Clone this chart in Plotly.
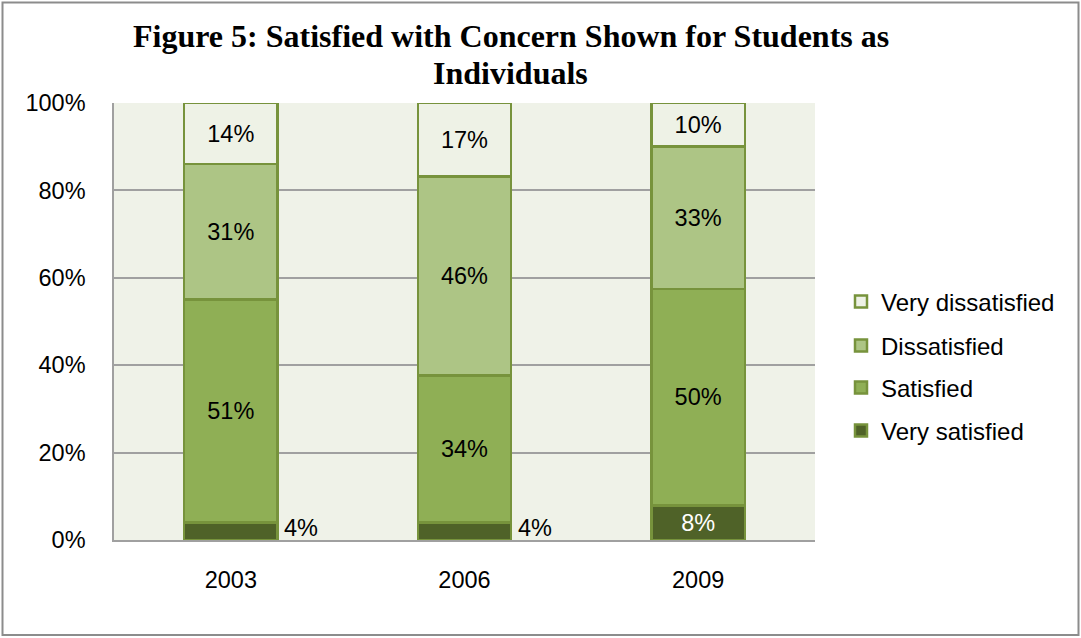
import plotly.graph_objects as go

years = ["2003", "2006", "2009"]
series_names = ["Very satisfied", "Satisfied", "Dissatisfied", "Very dissatisfied"]
very_satisfied = [4, 4, 8]
satisfied = [51, 34, 50]
dissatisfied = [31, 46, 33]
very_dissatisfied = [14, 17, 10]
y_ticks = [0, 20, 40, 60, 80, 100]
title_lines = ["Figure 5: Satisfied with Concern Shown for Students as", "Individuals"]

all_series = [very_satisfied, satisfied, dissatisfied, very_dissatisfied]
fills = ["#4F6228", "#8FAF55", "#ADC585", "#EEF2E6"]
outline = "#77933C"
FONT = "Liberation Sans, Arial, sans-serif"
FS = 23.5

W, H = 1081, 638
ml, mr, mt, mb = 114, 266, 103, 98
pw, ph = W - ml - mr, H - mt - mb

fig = go.Figure()
legend_ids = ["legend4", "legend3", "legend2", "legend"]
for i, (name, vals) in enumerate(zip(series_names, all_series)):
    if i == 0:
        texts = [f"{v}%" if v >= 6 else "" for v in vals]
        tcolor = "white"
    else:
        texts = [f"{v}%" for v in vals]
        tcolor = "black"
    fig.add_trace(go.Bar(
        x=years, y=vals, name=name, text=texts,
        textposition="inside", insidetextanchor="middle",
        constraintext="none", textangle=0,
        insidetextfont=dict(family=FONT, size=FS, color=tcolor),
        marker=dict(color=fills[i], line=dict(color=outline, width=2.5)),
        width=0.4, legend=legend_ids[i], hoverinfo="skip",
    ))

# small-segment labels outside to the right (category index positions)
for j, yr in enumerate(years):
    v = very_satisfied[j]
    if v < 6:
        tot = sum(s[j] for s in all_series)
        fig.add_annotation(x=j, y=100 * v / tot / 2, text=f"{v}%", showarrow=False,
                           xref="x", yref="y", xshift=70, yshift=3,
                           font=dict(family=FONT, size=FS, color="black"))

# title lines
for k, (line, ypx) in enumerate(zip(title_lines, [36, 73])):
    fig.add_annotation(x=(511 - ml) / pw, y=(H - mb - ypx) / ph, xref="paper", yref="paper",
                       text=f"<b>{line}</b>", showarrow=False, xanchor="center", yanchor="middle",
                       font=dict(family="Liberation Serif, Times New Roman, serif", size=32,
                                 color="black"))

legend_y_px = [302, 346, 388, 431]
leg_common = dict(font=dict(family=FONT, size=24, color="black"), bgcolor="rgba(0,0,0,0)",
                  xanchor="left", yanchor="middle", itemwidth=30)
legends = {}
for k, lid in enumerate(["legend", "legend2", "legend3", "legend4"]):
    legends[lid] = dict(x=(841 - ml) / pw, y=(H - mb - legend_y_px[k]) / ph, **leg_common)

# outer border
fig.add_shape(type="rect", xref="paper", yref="paper",
              x0=(2.5 - ml) / pw, x1=(1078.5 - ml) / pw,
              y0=(H - mb - 635) / ph, y1=(H - mb - 2.5) / ph,
              line=dict(color="#8C8C8C", width=2), fillcolor="rgba(0,0,0,0)", layer="below")

fig.update_layout(
    width=W, height=H,
    margin=dict(l=ml, r=mr, t=mt, b=mb),
    barmode="stack", barnorm="percent",
    paper_bgcolor="white", plot_bgcolor="#EFF2E8",
    showlegend=True,
    **legends,
    xaxis=dict(type="category", range=[-0.5, 2.5], showline=True, linecolor="#A0A0A0",
               linewidth=2, ticks="",
               tickfont=dict(family=FONT, size=FS, color="black"), ticklabelstandoff=18),
    yaxis=dict(range=[0, 100], tickvals=y_ticks, ticktext=[f"{t}%" for t in y_ticks],
               showgrid=True, gridcolor="#A0A0A0", gridwidth=1.5,
               showline=True, linecolor="#A0A0A0", linewidth=1.5, ticks="",
               zeroline=False,
               tickfont=dict(family=FONT, size=FS, color="black"), ticklabelstandoff=22),
)

fig.write_html("out.html")
